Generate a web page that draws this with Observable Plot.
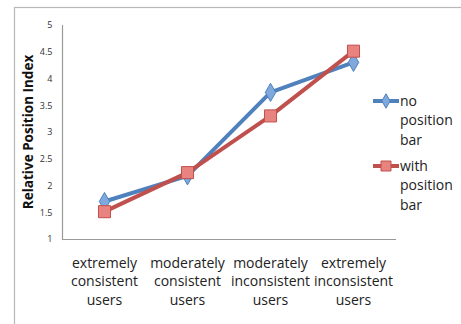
<!DOCTYPE html>
<html>
<head>
<meta charset="utf-8">
<script src="https://cdn.jsdelivr.net/npm/d3@7"></script>
<script src="https://cdn.jsdelivr.net/npm/@observablehq/plot@0.6"></script>
<style>
html,body{margin:0;padding:0;background:#fff;}
#chart{position:relative;width:461px;height:324px;overflow:hidden;}
</style>
</head>
<body>
<div id="chart"></div>
<script>
const categories = ["extremely\nconsistent\nusers", "moderately\nconsistent\nusers", "moderately\ninconsistent\nusers", "extremely\ninconsistent\nusers"];
const noPositionBar = [1.71, 2.19, 3.75, 4.31];
const withPositionBar = [1.52, 2.25, 3.31, 4.52];
const yTicks = [1, 1.5, 2, 2.5, 3, 3.5, 4, 4.5, 5];
const seriesNames = ["no\nposition\nbar", "with\nposition\nbar"];

const rows = [];
categories.forEach((c, i) => {
  rows.push({cat: c, value: noPositionBar[i], series: "no"});
  rows.push({cat: c, value: withPositionBar[i], series: "with"});
});
const blueRows = rows.filter(d => d.series === "no");
const redRows = rows.filter(d => d.series === "with");

const font = "'Open Sans', sans-serif";
const blue = "#4F81BD", red = "#C0504D";

const plot = Plot.plot({
  width: 461, height: 324,
  marginLeft: 62, marginRight: 66, marginTop: 25, marginBottom: 85,
  style: {fontFamily: font, background: "transparent", overflow: "visible"},
  x: {type: "point", domain: categories, padding: 0.5},
  y: {domain: [1, 5]},
  marks: [
    Plot.frame({anchor: "bottom", stroke: "#9a9a9a", strokeWidth: 1.2}),
    Plot.frame({anchor: "left", stroke: "#9a9a9a", strokeWidth: 1.2}),
    Plot.axisY({ticks: yTicks, tickSize: 0, tickPadding: 10, fontSize: 9, fill: "#333", label: null, tickFormat: d => String(d), anchor: "left"}),
    Plot.axisX({tickSize: 0, tickPadding: 15, fontSize: 14, lineHeight: 1.33, fill: "#222", label: null, anchor: "bottom", tickFormat: d => d}),
    Plot.line(blueRows, {x: "cat", y: "value", stroke: blue, strokeWidth: 4}),
    Plot.line(redRows, {x: "cat", y: "value", stroke: red, strokeWidth: 4}),
    Plot.dot(blueRows, {x: "cat", y: "value", symbol: "diamond", r: 5.5, fill: "#7FA8DC", stroke: blue, strokeWidth: 1}),
    Plot.dot(redRows, {x: "cat", y: "value", symbol: "square", r: 6.8, fill: "#E8837F", stroke: red, strokeWidth: 1})
  ]
});
document.getElementById("chart").appendChild(plot);

const svg = d3.select(plot);
// outer chart frame
svg.insert("rect", ":first-child").attr("x", 14.5).attr("y", 7.5).attr("width", 460).attr("height", 330)
  .attr("fill", "none").attr("stroke", "#b8b8b8").attr("stroke-width", 1.2);
// y axis title
svg.append("text").attr("transform", "translate(28,132) rotate(-90)").attr("text-anchor", "middle").attr("dy", "0.35em")
  .attr("font-family", font).attr("font-weight", "bold").attr("font-size", 13.5).attr("fill", "#111")
  .text("Relative Position Index");
// legend
const legend = [
  {name: seriesNames[0], color: blue, fill: "#7FA8DC", sym: d3.symbolDiamond, size: 60, y: 101},
  {name: seriesNames[1], color: red, fill: "#E8837F", sym: d3.symbolSquare, size: 100, y: 166}
];
legend.forEach(l => {
  const g = svg.append("g");
  g.append("line").attr("x1", 373).attr("x2", 399).attr("y1", l.y).attr("y2", l.y).attr("stroke", l.color).attr("stroke-width", 4);
  g.append("path").attr("d", d3.symbol(l.sym, l.size)()).attr("transform", `translate(386,${l.y})`).attr("fill", l.fill).attr("stroke", l.color);
  const t = g.append("text").attr("x", 400).attr("y", l.y).attr("text-anchor", "start").attr("font-family", font).attr("font-size", 14).attr("fill", "#222");
  l.name.split("\n").forEach((s, i) => t.append("tspan").attr("x", 400).attr("dy", i === 0 ? "0.35em" : 19.5).text(s));
});
</script>
</body>
</html>
